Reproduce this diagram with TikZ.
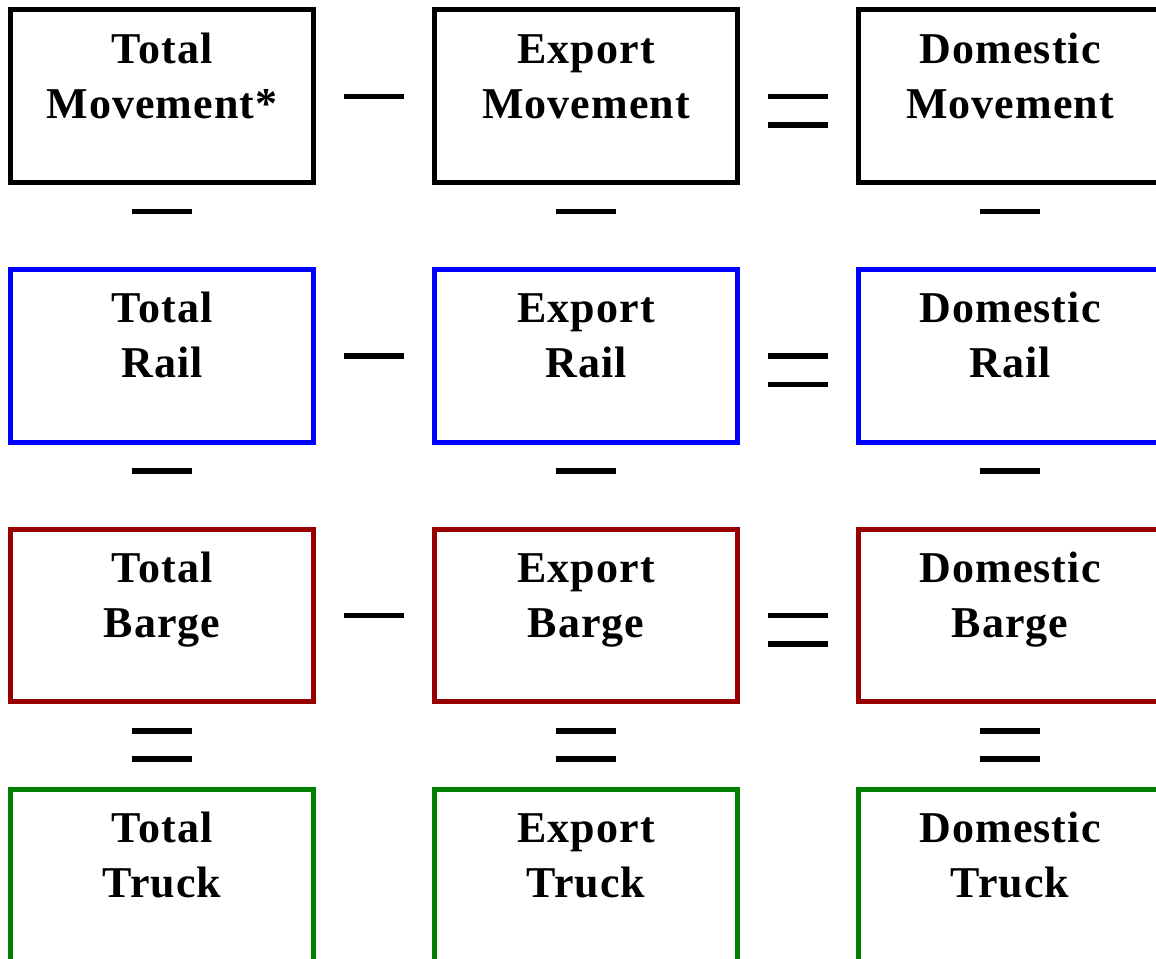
\documentclass[tikz,border=0pt]{standalone}
\usepackage{fontspec}
\setmainfont{Liberation Serif}[LetterSpace=2.5]
\usetikzlibrary{calc}
\definecolor{boxblue}{RGB}{0,0,255}
\definecolor{boxred}{RGB}{153,0,0}
\definecolor{boxgreen}{RGB}{0,128,0}
\newcommand{\firststrut}{\rule{0pt}{32pt}}
\tikzset{
  box/.style={draw, line width=5pt, minimum width=302.5pt, minimum height=172.5pt, inner sep=0pt},
  lbl/.style={anchor=north, align=center, inner sep=0pt, font=\fontsize{44}{55}\selectfont\bfseries},
  opline/.style={line width=5.5pt, line cap=butt},
}
\begin{document}
\begin{tikzpicture}[x=1pt,y=-1pt]
\useasboundingbox (0,0) rectangle (1156,958);
\clip (0,0) rectangle (1156,958);
% boxes: centres
\node[box, draw=black] (b11) at (162.05,96.25) {};
\node[box, draw=black] (b12) at (586.05,96.25) {};
\node[box, draw=black] (b13) at (1010.05,96.25) {};
\node[box, draw=boxblue] (b21) at (162.05,355.95) {};
\node[box, draw=boxblue] (b22) at (586.05,355.95) {};
\node[box, draw=boxblue] (b23) at (1010.05,355.95) {};
\node[box, draw=boxred] (b31) at (162.05,615.65) {};
\node[box, draw=boxred] (b32) at (586.05,615.65) {};
\node[box, draw=boxred] (b33) at (1010.05,615.65) {};
\node[box, draw=boxgreen] (b41) at (162.05,875.35) {};
\node[box, draw=boxgreen] (b42) at (586.05,875.35) {};
\node[box, draw=boxgreen] (b43) at (1010.05,875.35) {};
% labels
\node[lbl] (t11) at ($(b11.north)+(0,23.5)$) {\firststrut Total\\Movement*};
\node[lbl] (t12) at ($(b12.north)+(0,23.5)$) {\firststrut Export\\Movement};
\node[lbl] (t13) at ($(b13.north)+(0,23.5)$) {\firststrut Domestic\\Movement};
\node[lbl] (t21) at ($(b21.north)+(0,23.5)$) {\firststrut Total\\Rail};
\node[lbl] (t22) at ($(b22.north)+(0,23.5)$) {\firststrut Export\\Rail};
\node[lbl] (t23) at ($(b23.north)+(0,23.5)$) {\firststrut Domestic\\Rail};
\node[lbl] (t31) at ($(b31.north)+(0,23.5)$) {\firststrut Total\\Barge};
\node[lbl] (t32) at ($(b32.north)+(0,23.5)$) {\firststrut Export\\Barge};
\node[lbl] (t33) at ($(b33.north)+(0,23.5)$) {\firststrut Domestic\\Barge};
\node[lbl] (t41) at ($(b41.north)+(0,23.5)$) {\firststrut Total\\Truck};
\node[lbl] (t42) at ($(b42.north)+(0,23.5)$) {\firststrut Export\\Truck};
\node[lbl] (t43) at ($(b43.north)+(0,23.5)$) {\firststrut Domestic\\Truck};
% horizontal operators
\foreach \r in {1,2,3}{
  \coordinate (m\r) at ($(b\r1.east)!0.5!(b\r2.west)$);
  \draw[opline] ($(m\r)+(-30,0)$) -- ($(m\r)+(30,0)$);
  \coordinate (e\r) at ($(b\r2.east)!0.5!(b\r3.west)$);
  \draw[opline] ($(e\r)+(-30,0)$) -- ($(e\r)+(30,0)$);
  \draw[opline] ($(e\r)+(-30,28.5)$) -- ($(e\r)+(30,28.5)$);
}
% vertical operators
\foreach \c in {1,2,3}{
  \draw[opline] ($(b1\c.south)+(-30,26.5)$) -- ($(b1\c.south)+(30,26.5)$);
  \draw[opline] ($(b2\c.south)+(-30,26.5)$) -- ($(b2\c.south)+(30,26.5)$);
  \draw[opline] ($(b3\c.south)+(-30,26.5)$) -- ($(b3\c.south)+(30,26.5)$);
  \draw[opline] ($(b3\c.south)+(-30,54.5)$) -- ($(b3\c.south)+(30,54.5)$);
}
\end{tikzpicture}
\end{document}
